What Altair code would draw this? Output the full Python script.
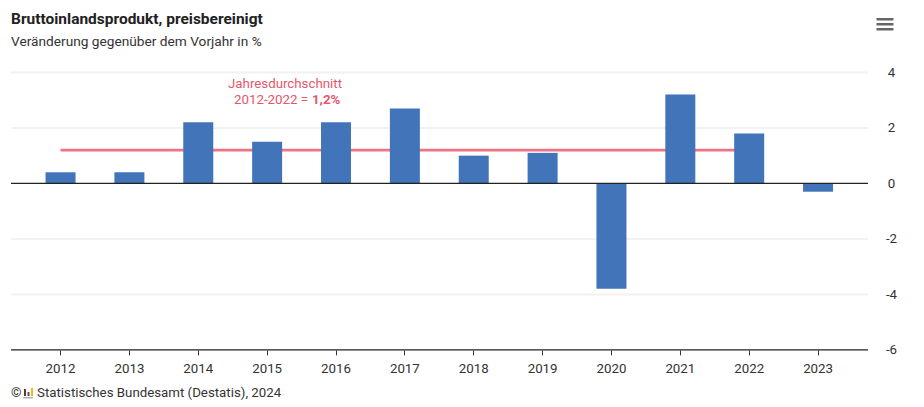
import altair as alt
import pandas as pd

years = ["2012","2013","2014","2015","2016","2017","2018","2019","2020","2021","2022","2023"]
values = [0.4,0.4,2.2,1.5,2.2,2.7,1.0,1.1,-3.8,3.2,1.8,-0.3]
avg_years = ["2012","2022"]
avg_values = [1.2,1.2]
grid_values = [-4,-2,2,4]
FONT = "Roboto"
FS = 13.3
W, H = 857, 277.5
OX, OY = 11, 72.4   # page position of the plot's origin

df = pd.DataFrame({"year": years, "value": values})
avg = pd.DataFrame({"year": avg_years, "value": avg_values})

x = alt.X("year:N", title=None, sort=years,
          scale=alt.Scale(range=[15.1, 841.5], paddingInner=0.564, paddingOuter=0.282),
          axis=alt.Axis(labelAngle=0, labelFont=FONT, labelFontSize=FS, labelColor="#333333",
                        labelPadding=7, tickColor="#333333", tickSize=5, domain=False, grid=False))
y = alt.Y("value:Q", title=None,
          scale=alt.Scale(domain=[-6,4], nice=False),
          axis=alt.Axis(orient="right", values=[-6,-4,-2,0,2,4], labelExpr="'' + datum.value", labelFont=FONT,
                        labelFontSize=FS, labelColor="#333333", labelPadding=23, labelAlign="center",
                        domain=False, ticks=False, grid=False))

grid = alt.Chart(pd.DataFrame({"v": grid_values})).mark_rule(color="#f2f2f2", strokeWidth=2).encode(
    y=alt.Y("v:Q"), x=alt.value(0), x2=alt.value(W))
line = alt.Chart(avg).mark_line(color="#ef7483", strokeWidth=2.6).encode(x=x, y=y)
bars = alt.Chart(df).mark_bar(color="#4174b9", size=30).encode(x=x, y=y)
zero = alt.Chart(pd.DataFrame({"v":[0]})).mark_rule(color="#222222", strokeWidth=1.2).encode(
    y="v:Q", x=alt.value(0), x2=alt.value(W))
base = alt.Chart(pd.DataFrame({"v":[-6]})).mark_rule(color="#222222", strokeWidth=1.2).encode(
    y="v:Q", x=alt.value(0), x2=alt.value(W))

def label(t, px, py, align="left", size=FS, weight="normal", color="#333333"):
    return alt.Chart(pd.DataFrame({"t":[t]})).mark_text(align=align, baseline="alphabetic", font=FONT,
        fontSize=size, fontWeight=weight, color=color).encode(x=alt.value(px-OX), y=alt.value(py-OY), text="t:N")

RED = "#e8566a"
notes = [
    label("Bruttoinlandsprodukt, preisbereinigt", 11, 24, size=15.5, weight="bold", color="#222222"),
    label("Veränderung gegenüber dem Vorjahr in %", 11, 46, size=13.7),
    label("Jahresdurchschnitt", 285, 88, "center", color=RED),
    label("2012-2022 =", 308, 104, "right", color=RED),
    label("1,2%", 312, 104, "left", weight="bold", color=RED),
    label("©", 11, 397),
    label("Statistisches Bundesamt (Destatis), 2024", 37, 397),
]

def deco(x1, x2, y1, y2, color):
    return alt.Chart(pd.DataFrame({"c":[color]})).mark_rect(color=color).encode(
        x=alt.value(x1-OX), x2=alt.value(x2-OX), y=alt.value(y1-OY), y2=alt.value(y2-OY))

icons = [
    deco(876.5,893.5,18,20.5,"#666666"), deco(876.5,893.5,23,25.5,"#666666"), deco(876.5,893.5,28,30.5,"#666666"),
    deco(23,33,397,398.5,"#b5b0a8"), deco(24,26,389,396,"#7a2a2a"), deco(27.5,29.5,392,396,"#555555"), deco(31,33,388,396,"#f0b429"),
]

chart = alt.layer(grid, line, bars, zero, base, *notes, *icons).properties(
    width=W, height=H,
    autosize=alt.AutoSizeParams(type="none"),
    padding={"left":3,"top":64.4,"right":40,"bottom":50},
).configure_view(stroke=None)

chart.save("out.html", embed_options={"renderer": "svg", "actions": False})
